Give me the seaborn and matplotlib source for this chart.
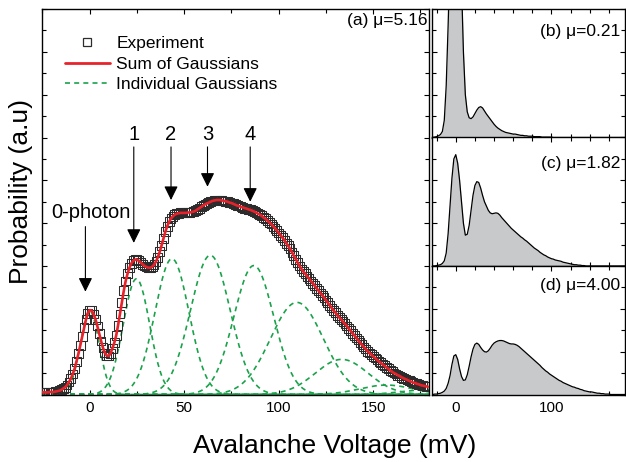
import numpy as np
import pandas as pd
import matplotlib
matplotlib.use("Agg")
import matplotlib.pyplot as plt
from matplotlib.lines import Line2D
from matplotlib.ticker import MultipleLocator
import seaborn as sns

# ---------------- data ----------------
exp_voltage = np.arange(-25, 180, 1)  # mV, experiment histogram bins
experiment = [
    0.05, 0.05, 0.05, 0.05, 0.06, 0.06, 0.06, 0.07, 0.08, 0.09,   # -25..-16
    0.11, 0.14, 0.17, 0.22, 0.29, 0.37, 0.48, 0.60, 0.77, 0.95,   # -15..-6
    1.15, 1.35, 1.56, 1.75, 1.90, 1.97, 1.96, 1.88, 1.76, 1.60,   # -5..4
    1.42, 1.25, 1.09, 0.97, 0.91, 0.90, 0.96, 1.08, 1.21, 1.38,   # 5..14
    1.62, 1.88, 2.15, 2.42, 2.65, 2.82, 2.96, 3.06, 3.12, 3.15,   # 15..24
    3.15, 3.12, 3.08, 3.04, 3.00, 2.98, 2.96, 2.96, 2.98, 3.03,   # 25..34
    3.10, 3.20, 3.33, 3.48, 3.64, 3.80, 3.93, 4.03, 4.11, 4.16,   # 35..44
    4.20, 4.22, 4.23, 4.24, 4.24, 4.24, 4.24, 4.25, 4.25, 4.26,   # 45..54
    4.27, 4.29, 4.32, 4.35, 4.38, 4.41, 4.44, 4.46, 4.48, 4.50,   # 55..64
    4.52, 4.53, 4.54, 4.54, 4.54, 4.53, 4.52, 4.51, 4.50, 4.48,   # 65..74
    4.47, 4.45, 4.43, 4.41, 4.40, 4.38, 4.37, 4.35, 4.34, 4.32,   # 75..84
    4.31, 4.29, 4.27, 4.25, 4.22, 4.20, 4.17, 4.13, 4.10, 4.06,   # 85..94
    4.02, 3.98, 3.93, 3.88, 3.83, 3.77, 3.72, 3.66, 3.60, 3.53,   # 95..104
    3.47, 3.40, 3.32, 3.24, 3.16, 3.08, 3.00, 2.93, 2.87, 2.82,   # 105..114
    2.76, 2.71, 2.65, 2.60, 2.54, 2.48, 2.43, 2.37, 2.32, 2.26,   # 115..124
    2.20, 2.14, 2.08, 2.02, 1.96, 1.91, 1.85, 1.80, 1.75, 1.70,   # 125..134
    1.65, 1.60, 1.54, 1.49, 1.43, 1.38, 1.32, 1.27, 1.21, 1.16,   # 135..144
    1.11, 1.06, 1.01, 0.97, 0.93, 0.89, 0.85, 0.81, 0.77, 0.74,   # 145..154
    0.70, 0.67, 0.63, 0.60, 0.56, 0.53, 0.50, 0.48, 0.45, 0.43,   # 155..164
    0.40, 0.38, 0.36, 0.34, 0.32, 0.30, 0.28, 0.27, 0.25, 0.24,   # 165..174
    0.22, 0.21, 0.20, 0.19, 0.18,                                 # 175..179
]

gauss_centers = [0.0, 24.7, 43.5, 63.8, 86.8, 109.6, 133.3, 157.0, 180.0]
gauss_amps = [1.95, 2.70, 3.17, 3.25, 3.01, 2.15, 0.82, 0.22, 0.12]
gauss_sigmas = [5.0, 7.0, 9.0, 10.5, 10.5, 14.0, 14.0, 14.0, 14.0]

voltage = np.arange(-24, 180, 2)  # mV grid of the small panels
panel_b = [
    0.00, 0.01, 0.02, 0.04, 0.07, 0.14, 0.40, 1.20, 2.60, 4.20,   # -24..-6
    5.60, 6.50, 6.80, 6.40, 5.20, 3.60, 2.00, 1.00, 0.60, 0.46,   # -4..14
    0.44, 0.48, 0.56, 0.64, 0.70, 0.72, 0.69, 0.62, 0.55, 0.49,   # 16..34
    0.43, 0.37, 0.31, 0.26, 0.22, 0.19, 0.16, 0.14, 0.12, 0.11,   # 36..54
    0.10, 0.09, 0.08, 0.08, 0.07, 0.06, 0.05, 0.05, 0.04, 0.04,   # 56..74
    0.03, 0.03, 0.03, 0.02, 0.02, 0.02, 0.02, 0.01, 0.01, 0.01,   # 76..94
    0.01, 0.01, 0.01, 0.00, 0.00, 0.00, 0.00, 0.00, 0.00, 0.00,   # 96..114
    0.00, 0.00, 0.00, 0.00, 0.00, 0.00, 0.00, 0.00, 0.00, 0.00,   # 116..134
    0.00, 0.00, 0.00, 0.00, 0.00, 0.00, 0.00, 0.00, 0.00, 0.00,   # 136..154
    0.00, 0.00, 0.00, 0.00, 0.00, 0.00, 0.00, 0.00, 0.00, 0.00,   # 156..174
    0.00, 0.00,
]
panel_c = [
    0.00, 0.00, 0.01, 0.02, 0.03, 0.06, 0.12, 0.30, 0.75, 1.40,   # -24..-6
    2.05, 2.50, 2.60, 2.40, 2.00, 1.50, 1.00, 0.72, 0.74, 0.95,   # -4..14
    1.30, 1.65, 1.88, 1.97, 1.95, 1.82, 1.65, 1.50, 1.40, 1.30,   # 16..34
    1.24, 1.22, 1.23, 1.24, 1.23, 1.19, 1.13, 1.08, 1.03, 0.98,   # 36..54
    0.93, 0.88, 0.84, 0.80, 0.76, 0.72, 0.68, 0.65, 0.61, 0.58,   # 56..74
    0.54, 0.50, 0.46, 0.42, 0.39, 0.36, 0.32, 0.29, 0.26, 0.24,   # 76..94
    0.21, 0.19, 0.17, 0.16, 0.14, 0.13, 0.12, 0.11, 0.09, 0.08,   # 96..114
    0.07, 0.06, 0.05, 0.04, 0.03, 0.03, 0.02, 0.02, 0.01, 0.01,   # 116..134
    0.00, 0.00, 0.00, 0.00, 0.00, 0.00, 0.00, 0.00, 0.00, 0.00,   # 136..154
    0.00, 0.00, 0.00, 0.00, 0.00, 0.00, 0.00, 0.00, 0.00, 0.00,   # 156..174
    0.00, 0.00,
]
panel_d = [
    0.00, 0.01, 0.01, 0.02, 0.03, 0.05, 0.08, 0.14, 0.26, 0.44,   # -24..-6
    0.70, 0.90, 0.93, 0.82, 0.60, 0.42, 0.33, 0.34, 0.46, 0.66,   # -4..14
    0.88, 1.06, 1.17, 1.20, 1.17, 1.10, 1.04, 1.00, 0.99, 1.02,   # 16..34
    1.08, 1.15, 1.20, 1.23, 1.25, 1.26, 1.26, 1.25, 1.23, 1.21,   # 36..54
    1.19, 1.18, 1.18, 1.17, 1.15, 1.12, 1.08, 1.04, 1.00, 0.96,   # 56..74
    0.92, 0.88, 0.84, 0.80, 0.76, 0.72, 0.68, 0.63, 0.59, 0.55,   # 76..94
    0.52, 0.48, 0.45, 0.42, 0.39, 0.36, 0.33, 0.31, 0.28, 0.26,   # 96..114
    0.24, 0.22, 0.20, 0.18, 0.17, 0.15, 0.14, 0.12, 0.11, 0.09,   # 116..134
    0.08, 0.07, 0.06, 0.06, 0.05, 0.04, 0.03, 0.03, 0.02, 0.02,   # 136..154
    0.01, 0.01, 0.01, 0.00, 0.00, 0.00, 0.00, 0.00, 0.00, 0.00,   # 156..174
    0.00, 0.00,
]

panel_labels = ["(b) \u03bc=0.21", "(c) \u03bc=1.82", "(d) \u03bc=4.00"]
main_label = "(a) \u03bc=5.16"
arrow_labels = ["1", "2", "3", "4"]
arrow_x = [23.3, 43.0, 62.3, 84.9]
arrow_tip_y = [3.54, 4.54, 4.85, 4.50]
zero_arrow_x = -2.3

# ---------------- style ----------------
sns.set_style("ticks")
plt.rcParams["font.family"] = ["Liberation Sans", "DejaVu Sans"]
plt.rcParams["axes.linewidth"] = 1.0
plt.rcParams["axes.edgecolor"] = "black"
plt.rcParams["text.color"] = "black"
plt.rcParams["xtick.color"] = "black"
plt.rcParams["ytick.color"] = "black"
plt.rcParams["xtick.direction"] = "in"
plt.rcParams["ytick.direction"] = "in"

W, H = 626, 462
fig = plt.figure(figsize=(W / 100, H / 100), dpi=100)


def fx(px):
    return px / W


def fy(py):
    return 1 - py / H


main_left, main_right, top, bottom = 42.5, 429.0, 9.0, 394.5
ax = fig.add_axes([fx(main_left), fy(bottom), fx(main_right - main_left), (bottom - top) / H])

red = "#e8222b"
green = "#1aa24b"

# individual gaussians (from the read-off centres, heights, widths)
xf = np.linspace(-25, 180, 800)
for c, a, s in zip(gauss_centers, gauss_amps, gauss_sigmas):
    g = a * np.exp(-(xf - c) ** 2 / (2 * s ** 2))
    sns.lineplot(x=xf, y=g, ax=ax, color=green, lw=1.2, linestyle=(0, (3, 2.5)),
                 zorder=2, estimator=None, sort=False)

df = pd.DataFrame({"voltage": exp_voltage, "prob": experiment})
sns.scatterplot(data=df, x="voltage", y="prob", ax=ax, marker="s", s=40, zorder=3)
pts = ax.collections[-1]
pts.set_facecolor("none")
pts.set_edgecolor("#2c2c2c")
pts.set_linewidth(0.75)
sns.lineplot(data=df, x="voltage", y="prob", ax=ax, color=red, lw=1.9, zorder=4)

ax.set_xlim(-25, 179.5)
ax.set_ylim(0, 9)
ax.xaxis.set_major_locator(MultipleLocator(50))
ax.xaxis.set_minor_locator(MultipleLocator(25))
ax.yaxis.set_major_locator(MultipleLocator(1))
ax.yaxis.set_minor_locator(MultipleLocator(0.5))
ax.tick_params(which="both", top=True, right=True, labelsize=11, pad=5)
ax.tick_params(which="major", length=3.5, width=0.8)
ax.tick_params(which="minor", length=3.0, width=0.8)
ax.set_yticklabels([])
ax.set_xlabel("")
ax.set_ylabel("")

# arrows and numbers
head = "-|>,head_length=0.85,head_width=0.42"
for lab, x, ty in zip(arrow_labels, arrow_x, arrow_tip_y):
    ax.annotate("", xy=(x, ty), xytext=(x, 5.78),
                arrowprops=dict(arrowstyle=head, color="black", lw=0.8,
                                shrinkA=0, shrinkB=0, mutation_scale=10))
    ax.text(x, 6.08, lab, ha="center", va="center", fontsize=14.5)
ax.annotate("", xy=(zero_arrow_x, 2.40), xytext=(zero_arrow_x, 3.92),
            arrowprops=dict(arrowstyle=head, color="black", lw=0.8,
                            shrinkA=0, shrinkB=0, mutation_scale=10))
ax.text(0.4, 4.24, "0-photon", ha="center", va="center", fontsize=14.5)
ax.text(0.995, 0.971, main_label, ha="right", va="center", fontsize=12.5,
        transform=ax.transAxes)

handles = [
    Line2D([], [], marker="s", ls="none", mfc="none", mec="#2c2c2c", ms=6, mew=0.9),
    Line2D([], [], color=red, lw=2.0),
    Line2D([], [], color=green, lw=1.2, ls=(0, (3, 2.5))),
]
ax.legend(handles, ["Experiment", "Sum of Gaussians", "Individual Gaussians"],
          loc="upper left", bbox_to_anchor=(0.058, 0.93), frameon=False,
          fontsize=12.5, handlelength=2.6, handletextpad=0.35,
          labelspacing=0.31, borderpad=0, borderaxespad=0)

# right panels
r_left, r_right = 432.5, 625.0
ph = (bottom - top) / 3
series = [panel_b, panel_c, panel_d]
label_y = [0.823, 0.80, 0.847]
for i, (vals, lab) in enumerate(zip(series, panel_labels)):
    ptop = top + i * ph
    rax = fig.add_axes([fx(r_left), fy(ptop + ph), fx(r_right - r_left), ph / H])
    rax.fill_between(voltage, vals, 0, color="#c8c9cb", lw=0, zorder=1)
    sns.lineplot(x=voltage, y=vals, ax=rax, color="black", lw=0.9, zorder=2)
    rax.set_xlim(-24.3, 176.8)
    rax.set_ylim(0, 3)
    rax.xaxis.set_major_locator(MultipleLocator(100))
    rax.xaxis.set_minor_locator(MultipleLocator(20))
    rax.yaxis.set_major_locator(MultipleLocator(1))
    rax.yaxis.set_minor_locator(MultipleLocator(0.5))
    rax.tick_params(which="both", top=True, right=True, labelsize=11, pad=5)
    rax.tick_params(which="major", length=3.5, width=0.8)
    rax.tick_params(which="minor", length=3.0, width=0.8)
    rax.set_yticklabels([])
    if i < 2:
        rax.set_xticklabels([])
    rax.set_xlabel("")
    rax.set_ylabel("")
    rax.text(0.974, label_y[i], lab, ha="right", va="center", fontsize=12.5,
             transform=rax.transAxes)

fig.text(fx(335), fy(446), "Avalanche Voltage (mV)", ha="center", va="center", fontsize=19)
fig.text(fx(21), fy(191.5), "Probability (a.u)", ha="center", va="center",
         rotation=90, fontsize=19)

fig.savefig("out.png", dpi=100)
